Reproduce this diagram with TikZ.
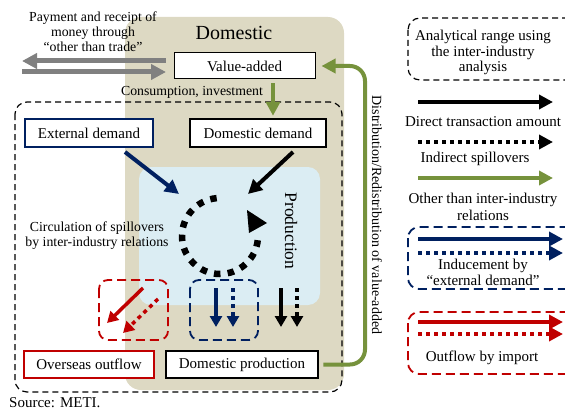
\documentclass[tikz,border=0pt]{standalone}
\usepackage{fontspec}
\setmainfont{Liberation Serif}
\usetikzlibrary{arrows.meta}
\definecolor{beige}{RGB}{221,217,195}
\definecolor{paleblue}{RGB}{219,237,243}
\definecolor{navy}{RGB}{0,32,96}
\definecolor{darkred}{RGB}{192,0,0}
\definecolor{olive}{RGB}{118,146,60}
\definecolor{midgray}{RGB}{128,128,128}
\begin{document}
\begin{tikzpicture}[x=1pt,y=-1pt,
  txt/.style={font=\fontsize{15}{17.5}\selectfont, align=center, inner sep=0pt},
  small/.style={font=\fontsize{13.8}{14.8}\selectfont, align=center, inner sep=0pt},
  box/.style={draw, fill=white, inner sep=0pt, font=\fontsize{15}{17.5}\selectfont},
  fat/.style={line width=4pt, -{Triangle[length=14pt,width=14pt]}},
  thin arrow/.style={line width=3.5pt, -{Triangle[length=11pt,width=12pt]}},
  dots/.style={dash pattern=on 4pt off 4pt},
  frame/.style={rounded corners=9pt, line width=1.8pt, dash pattern=on 9pt off 5pt},
]
\clip (0,0) rectangle (565,412);

% domestic area and production block
\fill[beige, rounded corners=16pt] (125,17) rectangle (344,390);
\fill[paleblue, rounded corners=12pt] (139,167) rectangle (320,305);
\node[font=\fontsize{20}{24}\selectfont, inner sep=0pt] (dom) at (234,33) {Domestic};
\node[font=\fontsize{17.5}{20}\selectfont, rotate=-90, inner sep=0pt] (prod) at (291,231) {Production};

% range of the inter-industry analysis
\draw[line width=1.2pt, dash pattern=on 6pt off 4pt, rounded corners=12pt] (15,102) rectangle (342,392);

% money through other than trade
\node[small] (pay) at (93,32) {Payment and receipt of\\money through\\“other than trade”};

% boxes
\node[box, line width=1pt, minimum width=141pt, minimum height=26pt] (va) at (244.5,66) {Value-added};
\node[box, draw=navy, line width=2pt, minimum width=128pt, minimum height=28pt] (ed) at (89,133) {External demand};
\node[box, line width=2.5pt, minimum width=136pt, minimum height=28pt] (dd) at (258,133) {Domestic demand};
\node[box, draw=darkred, line width=2pt, minimum width=130pt, minimum height=27pt] (of) at (89,364.5) {Overseas outflow};
\node[box, line width=2.5pt, minimum width=152pt, minimum height=27pt] (dp) at (242,364.5) {Domestic production};

% gray flows to and from abroad
\coordinate (gl1) at (22,61);
\coordinate (gr2) at (166,72);
\draw[midgray, line width=5pt, -{Triangle[length=15pt,width=15pt]}] ([xshift=-8pt,yshift=5pt]va.west) -- (gl1);
\draw[midgray, line width=5pt, -{Triangle[length=15pt,width=15pt]}] (22,72) -- (gr2);

% consumption and investment
\coordinate (gd) at (273,0);
\draw[olive, fat, shorten <=4pt, shorten >=2pt] (va.south -| gd) -- (dd.north -| gd);
\node[small] (ci) at (192,92) {Consumption, investment};

% distribution of value-added
\coordinate (gv) at (365,0);
\draw[olive, fat, rounded corners=15pt, shorten <=4pt, shorten >=6pt] (dp.east) -- (dp.east -| gv) -- (va.east -| gv) -- (va.east);
\node[font=\fontsize{14}{16}\selectfont, rotate=-90, inner sep=0pt] (dist) at (377,215) {Distribution/Redistribution of value-added};

% demand into production
\coordinate (e1) at (125,152); \coordinate (e2) at (179,194);
\draw[navy, fat] (e1) -- (e2);
\coordinate (d1) at (293,152); \coordinate (d2) at (248,194);
\draw[fat] (d1) -- (d2);

% circulation of spillovers
\draw[line width=6.5pt, dash pattern=on 6.5pt off 7.25pt] (220,236) ++(265:38) arc[start angle=265, end angle=6, radius=38];
\fill (247,210) -- (267,223) -- (249,233) -- cycle;
\node[small] (circ) at (97,236) {Circulation of spillovers\\by inter-industry relations};

% outflow by import
\draw[darkred, frame] (99,280) rectangle (168,340);
\coordinate (r1) at (143,288); \coordinate (r2) at (107,323);
\coordinate (r3) at (158,299); \coordinate (r4) at (123,333);
\draw[darkred, thin arrow] (r1) -- (r2);
\draw[darkred, thin arrow, dots] (r3) -- (r4);

% inducement by external demand
\draw[navy, frame] (190,280) rectangle (258,340);
\coordinate (n1) at (216,288); \coordinate (n2) at (216,327);
\coordinate (n3) at (233,288); \coordinate (n4) at (233,327);
\draw[navy, thin arrow] (n1) -- (n2);
\draw[navy, thin arrow, dots] (n3) -- (n4);

% domestic transactions
\coordinate (k1) at (281,288); \coordinate (k2) at (281,327);
\coordinate (k3) at (297,288); \coordinate (k4) at (297,327);
\draw[thin arrow] (k1) -- (k2);
\draw[thin arrow, dots] (k3) -- (k4);

\node[txt, anchor=west] (src) at (9,403) {Source: METI.};

% legend
\draw[line width=1.2pt, dash pattern=on 6pt off 4pt, rounded corners=12pt] (408,18) rectangle (600,80);
\node[txt, font=\fontsize{15}{15.5}\selectfont] (lg1) at (483,52.5) {Analytical range using\\the inter-industry\\analysis};

\coordinate (a1) at (418,102); \coordinate (a2) at (553,102);
\draw[fat] (a1) -- (a2);
\node[txt] (lg2) at (483,122) {Direct transaction amount};

\coordinate (b1) at (418,142); \coordinate (b2) at (553,142);
\draw[fat, dots] (b1) -- (b2);
\node[txt] (lg3) at (475,159) {Indirect spillovers};

\coordinate (c1) at (418,178); \coordinate (c2) at (553,178);
\draw[olive, fat] (c1) -- (c2);
\node[txt, font=\fontsize{15}{17}\selectfont] (lg4) at (483,206.5) {Other than inter-industry\\relations};

\draw[navy, frame, rounded corners=11pt] (408,227) rectangle (600,289);
\coordinate (f1) at (418,239); \coordinate (f2) at (563,239);
\coordinate (f3) at (418,253); \coordinate (f4) at (563,253);
\draw[navy, fat] (f1) -- (f2);
\draw[navy, fat, dots] (f3) -- (f4);
\node[txt, font=\fontsize{15}{16}\selectfont] (lg5) at (483,272) {Inducement by\\“external demand”};

\draw[darkred, frame, rounded corners=11pt] (408,312) rectangle (600,374);
\coordinate (h1) at (418,322); \coordinate (h2) at (563,322);
\coordinate (h3) at (418,334); \coordinate (h4) at (563,334);
\draw[darkred, fat] (h1) -- (h2);
\draw[darkred, fat, dots] (h3) -- (h4);
\node[txt] (lg6) at (482,358) {Outflow by import};
\end{tikzpicture}
\end{document}
